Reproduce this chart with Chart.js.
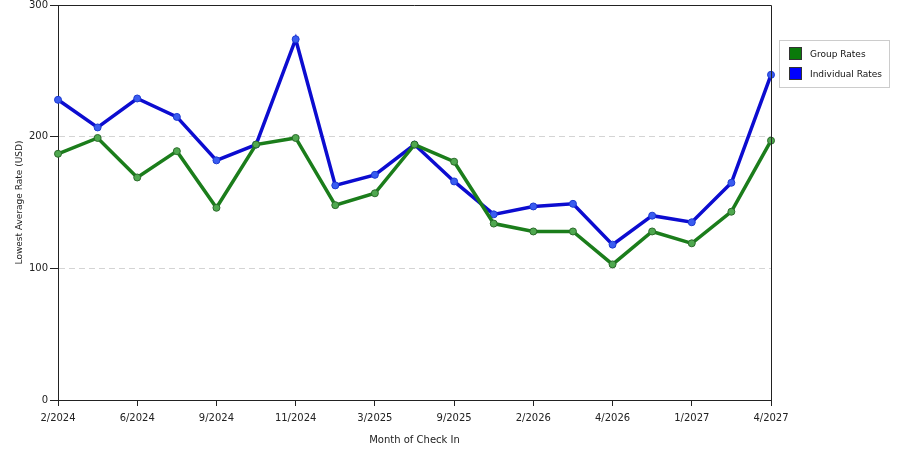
<!DOCTYPE html>
<html>
<head>
<meta charset="utf-8">
<script src="https://cdn.jsdelivr.net/npm/chart.js@4/dist/chart.umd.min.js"></script>
<style>
  html, body { margin: 0; padding: 0; background: #fff; }
  #wrap { width: 900px; height: 450px; position: relative; }
</style>
</head>
<body>
<div id="wrap"><canvas id="rateChart" width="900" height="450"></canvas></div>
<script>
// ── 데이터 ──
const months = ['2/2024', '4/2024', '6/2024', '7/2024', '9/2024', '10/2024', '11/2024', '1/2025', '3/2025', '6/2025',
  '9/2025', '11/2025', '2/2026', '3/2026', '4/2026', '10/2026', '1/2027', '3/2027', '4/2027'];
const groupRates = [187, 199, 169, 189, 146, 194, 199, 148, 157, 194, 181, 134, 128, 128, 103, 128, 119, 143, 197];
const individualRates = [228, 207, 229, 215, 182, 194, 274, 163, 171, 194, 166, 141, 147, 149, 118, 140, 135, 165, 247];
const yTicks = [0, 100, 200, 300];

const GREEN = '#1b7d1b', BLUE = '#0c0cd0';
const FONT = '"DejaVu Sans", sans-serif';

// ── 테두리 + 범례 ──
const frame = {
  id: 'frame',
  afterDatasetsDraw(chart) {
    const { ctx, chartArea: a } = chart;
    ctx.save();
    ctx.strokeStyle = '#222';
    ctx.lineWidth = 1;
    ctx.beginPath();
    ctx.moveTo(a.left, a.top + 0.5);
    ctx.lineTo(a.right + 0.5, a.top + 0.5);
    ctx.lineTo(a.right + 0.5, a.bottom);
    ctx.stroke();

    // 범례
    ctx.fillStyle = '#fff';
    ctx.strokeStyle = '#ccc';
    ctx.fillRect(779.5, 40.5, 110, 47);
    ctx.strokeRect(779.5, 40.5, 110, 47);
    ctx.font = '9px ' + FONT;
    ctx.textBaseline = 'middle';
    chart.data.datasets.forEach((ds, i) => {
      const y = 54 + i * 20;
      ctx.fillStyle = ds.legendColor;
      ctx.fillRect(789.5, y - 6.5, 12, 12);
      ctx.strokeStyle = '#333';
      ctx.strokeRect(789.5, y - 6.5, 12, 12);
      ctx.fillStyle = '#111';
      ctx.fillText(ds.label, 810, y + 0.5);
    });
    ctx.restore();
  }
};

new Chart(document.getElementById('rateChart'), {
  type: 'line',
  data: {
    labels: months,
    datasets: [
      { label: 'Group Rates', data: groupRates, borderColor: GREEN, backgroundColor: '#4fa84f', legendColor: '#0a7a0a',
        borderWidth: 3.5, pointRadius: 3.5, pointBorderWidth: 1, pointBorderColor: '#2a6a2a', tension: 0 },
      { label: 'Individual Rates', data: individualRates, borderColor: BLUE, backgroundColor: '#3a5cf0', legendColor: '#0000ff',
        borderWidth: 3.5, pointRadius: 3.5, pointBorderWidth: 1, pointBorderColor: '#1c3ad0', tension: 0 }
    ]
  },
  options: {
    responsive: false, animation: false,
    layout: { padding: { top: 5, right: 129, left: 0, bottom: 0 } },
    plugins: { legend: { display: false }, tooltip: { enabled: false } },
    scales: {
      x: {
        offset: false,
        afterFit: s => { s.height = 50; s.paddingLeft = 0; s.paddingRight = 0; },
        grid: { display: true, drawOnChartArea: false, drawTicks: true, tickLength: 6,
          tickColor: c => (c.index % 2 === 0 ? '#222' : 'rgba(0,0,0,0)') },
        border: { color: '#222', width: 1 },
        ticks: {
          autoSkip: false, maxRotation: 0, color: '#222', padding: 6,
          font: { size: 10, family: FONT },
          callback: (v, i) => i % 2 === 0 ? months[i] : ''
        },
        title: { display: true, text: 'Month of Check In', color: '#222', padding: { top: 2 },
          font: { size: 10, family: FONT } }
      },
      y: {
        min: 0, max: 300,
        afterFit: s => { s.width = 58; s.paddingTop = 0; s.paddingBottom = 0; },
        afterBuildTicks: s => { s.ticks = yTicks.map(v => ({ value: v })); },
        grid: {
          color: c => (c.tick && (c.tick.value === 0 || c.tick.value === 300)) ? 'rgba(0,0,0,0)' : '#d4d4d4',
          tickColor: '#222', tickLength: 8, drawTicks: true
        },
        border: { color: '#222', width: 1, dash: [6, 4] },
        ticks: { color: '#222', padding: 2, font: { size: 10, family: FONT } },
        title: { display: true, text: 'Lowest Average Rate (USD)', color: '#222', padding: { top: 14, bottom: 2 },
          font: { size: 9, family: FONT } }
      }
    }
  },
  plugins: [frame]
});
</script>
</body>
</html>
